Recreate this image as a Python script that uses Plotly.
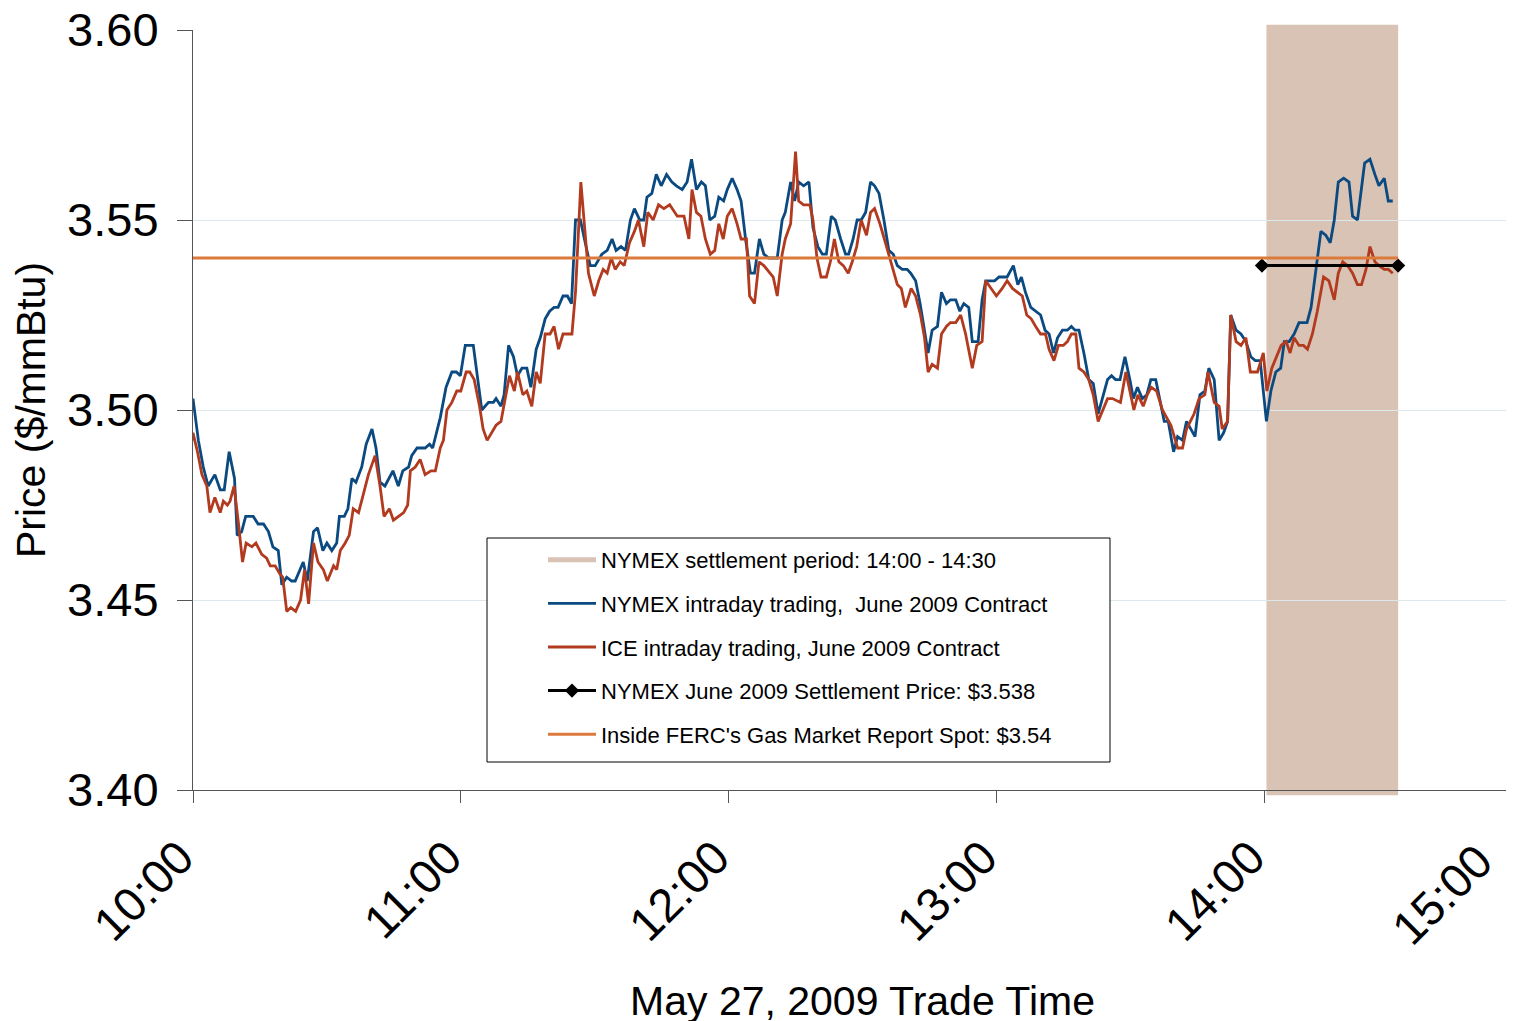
import pandas as pd
import plotly.graph_objects as go

# minutes after 10:00 and prices
nymex_minutes = [
    0, 1.2, 2.3, 3.4, 4.9, 6.1, 7.0, 8.1, 9.3, 9.9, 10.9, 11.8, 13.5, 14.6, 15.8, 16.9,
    17.9, 19.1, 19.9, 21.0, 22.1, 22.9, 24.7, 25.6, 27.0, 27.9, 29.1, 30.0, 31.1, 32.2,
    32.8, 33.9, 34.7, 35.6, 36.5, 37.8, 38.8, 40.1, 41.0, 41.9, 43.0, 44.8, 46.0, 47.0,
    48.3, 49.0, 50.2, 52.0, 53.0, 53.7, 55.4, 56.7, 58.0, 59.0, 59.9, 61.0, 62.8, 64.7,
    66.2, 67.3, 67.9, 69.0, 69.7, 70.7, 71.8, 72.7, 73.7, 74.8, 75.7, 76.9, 77.8, 78.9,
    79.9, 80.9, 81.8, 82.9, 83.9, 84.8, 85.7, 86.8, 87.7, 89.0, 90.1, 91.6, 92.8, 93.9,
    94.8, 95.9, 96.9, 98.0, 98.9, 100.1, 101.0, 101.7, 102.8, 103.8, 104.9, 106.1, 107.3,
    108.3, 109.6, 110.7, 111.7, 112.8, 113.9, 114.8, 115.8, 116.9, 117.8, 118.9, 119.7,
    120.8, 121.9, 122.8, 123.8, 124.9, 125.8, 126.9, 127.9, 129.0, 130.9, 132.0, 132.7,
    133.9, 134.8, 135.7, 136.8, 138.0, 138.9, 140.0, 141.0, 141.9, 143.0, 143.9, 145.1,
    146.2, 146.9, 147.9, 148.8, 149.7, 150.7, 151.8, 152.7, 153.7, 154.8, 155.9, 156.9,
    157.8, 158.9, 160.0, 160.8, 161.9, 162.9, 163.8, 164.7, 165.6, 166.8, 167.7, 168.8,
    169.7, 170.9, 171.8, 172.7, 173.8, 174.6, 175.9, 176.8, 177.6, 178.5, 179.6, 180.6,
    182.4, 183.8, 184.8, 185.6, 186.5, 187.7, 188.8, 189.9, 190.9, 191.8, 192.8, 193.7,
    194.8, 195.9, 196.8, 197.6, 198.5, 199.6, 200.7, 201.7, 202.8, 203.9, 204.9, 205.8,
    206.7, 207.7, 208.8, 209.9, 210.7, 211.6, 212.7, 213.7, 214.6, 215.7, 216.4, 217.6,
    218.5, 219.7, 220.6, 221.7, 222.6, 223.5, 224.5, 225.6, 226.7, 227.6, 228.8, 229.9,
    230.9, 231.8, 232.5, 233.7, 234.8, 235.9, 237.0, 238.0, 239.1, 240.5, 241.5, 242.6,
    243.7, 244.5, 245.6, 246.7, 247.8, 249.6, 250.5, 251.6, 252.7, 253.8, 254.8, 255.7,
    256.6, 257.8, 259.0, 259.8, 260.9, 262.5, 263.7, 264.8, 265.7, 266.9, 267.8, 268.8,
]
nymex_price = [
    3.503, 3.492, 3.485, 3.480, 3.483, 3.479, 3.479, 3.489, 3.482, 3.467, 3.468, 3.472,
    3.472, 3.470, 3.470, 3.468, 3.464, 3.463, 3.454, 3.456, 3.455, 3.455, 3.460, 3.455,
    3.468, 3.469, 3.463, 3.465, 3.463, 3.465, 3.472, 3.472, 3.474, 3.482, 3.481, 3.485,
    3.491, 3.495, 3.490, 3.481, 3.480, 3.484, 3.480, 3.484, 3.485, 3.488, 3.490, 3.490,
    3.491, 3.490, 3.498, 3.506, 3.510, 3.510, 3.509, 3.517, 3.517, 3.500, 3.502, 3.502,
    3.503, 3.501, 3.504, 3.517, 3.514, 3.509, 3.511, 3.511, 3.506, 3.516, 3.519, 3.524,
    3.526, 3.527, 3.527, 3.530, 3.530, 3.528, 3.550, 3.550, 3.545, 3.538, 3.538, 3.541,
    3.542, 3.545, 3.542, 3.543, 3.542, 3.550, 3.553, 3.550, 3.550, 3.556, 3.557, 3.562,
    3.559, 3.562, 3.560, 3.559, 3.558, 3.560, 3.566, 3.558, 3.560, 3.559, 3.550, 3.551,
    3.556, 3.555, 3.558, 3.561, 3.558, 3.555, 3.545, 3.536, 3.536, 3.545, 3.541, 3.540,
    3.540, 3.550, 3.552, 3.560, 3.555, 3.560, 3.559, 3.560, 3.548, 3.543, 3.541, 3.541,
    3.551, 3.550, 3.545, 3.541, 3.541, 3.545, 3.550, 3.550, 3.552, 3.560, 3.559, 3.557,
    3.550, 3.542, 3.541, 3.538, 3.537, 3.537, 3.536, 3.534, 3.528, 3.522, 3.515, 3.521,
    3.522, 3.531, 3.528, 3.529, 3.529, 3.526, 3.528, 3.527, 3.518, 3.518, 3.529, 3.534,
    3.534, 3.534, 3.535, 3.535, 3.538, 3.533, 3.535, 3.531, 3.527, 3.526, 3.525, 3.521,
    3.520, 3.515, 3.519, 3.521, 3.521, 3.522, 3.521, 3.521, 3.515, 3.508, 3.507, 3.499,
    3.504, 3.508, 3.509, 3.508, 3.508, 3.514, 3.508, 3.503, 3.506, 3.503, 3.504, 3.508,
    3.508, 3.504, 3.497, 3.497, 3.489, 3.493, 3.492, 3.497, 3.495, 3.493, 3.504, 3.505,
    3.511, 3.508, 3.492, 3.494, 3.497, 3.525, 3.521, 3.520, 3.518, 3.514, 3.513, 3.513,
    3.497, 3.505, 3.510, 3.511, 3.518, 3.518, 3.520, 3.523, 3.523, 3.527, 3.537, 3.547,
    3.546, 3.544, 3.550, 3.560, 3.561, 3.560, 3.551, 3.550, 3.565, 3.566, 3.562, 3.559,
    3.561, 3.555, 3.555,
]

ice_minutes = [
    -1.0, 0, 1.0, 2.0, 3.1, 3.8, 4.9, 6.1, 6.8, 7.7, 8.3, 9.2, 10.2, 11.1, 11.9, 13.2,
    14.1, 15.4, 16.5, 17.3, 18.4, 19.4, 20.1, 21.0, 21.9, 23.0, 24.1, 25.0, 25.9, 27.0,
    28.0, 29.2, 30.1, 31.5, 32.2, 33.0, 34.1, 35.0, 35.9, 37.1, 38.2, 39.3, 40.8, 41.9,
    42.8, 44.0, 44.9, 46.0, 47.2, 48.1, 48.7, 49.8, 50.9, 52.0, 53.3, 54.3, 55.4, 56.1,
    56.9, 58.0, 59.1, 60.0, 61.2, 62.0, 63.0, 64.2, 65.0, 65.9, 67.0, 67.9, 69.0, 70.0,
    70.9, 72.0, 72.7, 73.9, 74.8, 75.9, 76.9, 77.8, 78.9, 80.0, 80.9, 81.9, 82.9, 84.9,
    85.7, 86.9, 87.7, 88.6, 89.9, 90.9, 91.9, 92.8, 93.7, 94.6, 95.7, 96.6, 97.8, 98.9,
    99.8, 101.0, 101.9, 103.1, 104.3, 105.5, 106.8, 108.5, 110.0, 111.1, 111.8, 112.8,
    113.8, 114.8, 115.9, 116.9, 117.8, 118.8, 119.7, 120.8, 121.9, 122.8, 124.0, 124.7,
    125.8, 126.8, 127.9, 129.4, 130.0, 130.9, 132.0, 132.7, 133.9, 135.0, 135.7, 136.8,
    138.2, 138.9, 139.8, 140.7, 141.9, 142.8, 143.7, 144.7, 145.7, 146.8, 147.7, 148.7,
    149.7, 150.9, 151.8, 152.7, 153.9, 154.9, 155.9, 156.9, 157.8, 158.7, 159.6, 160.9,
    161.9, 163.0, 163.9, 164.7, 165.6, 166.8, 167.7, 168.8, 169.7, 170.9, 172.0, 173.1,
    174.6, 175.6, 176.8, 177.6, 178.7, 180.0, 181.3, 182.4, 183.6, 184.7, 185.8, 186.8,
    187.8, 188.8, 189.9, 191.0, 191.8, 192.9, 193.9, 195.0, 195.9, 196.8, 197.8, 198.5,
    199.6, 200.7, 201.7, 202.8, 203.9, 204.9, 206.0, 207.8, 209.0, 209.9, 210.8, 211.7,
    212.9, 213.8, 214.7, 215.9, 217.2, 219.1, 220.6, 221.7, 222.6, 224.3, 225.4, 226.7,
    227.4, 228.8, 229.9, 230.6, 231.8, 232.5, 233.7, 234.8, 235.9, 236.9, 238.5, 239.8,
    240.6, 241.7, 243.8, 244.9, 245.8, 246.7, 247.8, 248.8, 249.7, 250.8, 251.9, 253.3,
    254.5, 255.7, 256.6, 257.6, 258.7, 259.8, 260.9, 261.8, 262.8, 263.7, 264.8, 265.7,
    266.9, 267.8, 268.8,
]
ice_price = [
    3.487, 3.494, 3.489, 3.483, 3.480, 3.473, 3.477, 3.473, 3.476, 3.475, 3.476, 3.480,
    3.470, 3.460, 3.465, 3.464, 3.465, 3.462, 3.461, 3.459, 3.459, 3.457, 3.456, 3.447,
    3.448, 3.447, 3.450, 3.458, 3.449, 3.465, 3.460, 3.458, 3.455, 3.459, 3.458, 3.463,
    3.465, 3.467, 3.474, 3.473, 3.478, 3.483, 3.488, 3.480, 3.472, 3.474, 3.471, 3.472,
    3.473, 3.475, 3.484, 3.485, 3.487, 3.483, 3.484, 3.484, 3.490, 3.492, 3.500, 3.502,
    3.505, 3.505, 3.510, 3.510, 3.508, 3.501, 3.495, 3.492, 3.494, 3.496, 3.497, 3.503,
    3.509, 3.505, 3.510, 3.504, 3.505, 3.501, 3.510, 3.507, 3.520, 3.520, 3.522, 3.516,
    3.520, 3.520, 3.531, 3.560, 3.549, 3.536, 3.530, 3.534, 3.537, 3.536, 3.540, 3.537,
    3.539, 3.538, 3.544, 3.547, 3.550, 3.543, 3.552, 3.550, 3.554, 3.553, 3.554, 3.551,
    3.551, 3.545, 3.558, 3.552, 3.551, 3.545, 3.541, 3.542, 3.549, 3.545, 3.551, 3.553,
    3.549, 3.545, 3.545, 3.530, 3.528, 3.539, 3.538, 3.536, 3.535, 3.530, 3.541, 3.545,
    3.549, 3.568, 3.555, 3.554, 3.554, 3.550, 3.540, 3.535, 3.535, 3.539, 3.545, 3.539,
    3.538, 3.536, 3.539, 3.543, 3.550, 3.546, 3.552, 3.553, 3.549, 3.545, 3.541, 3.537,
    3.533, 3.532, 3.527, 3.532, 3.530, 3.525, 3.519, 3.510, 3.512, 3.511, 3.520, 3.522,
    3.523, 3.523, 3.525, 3.520, 3.511, 3.517, 3.518, 3.534, 3.532, 3.530, 3.532, 3.534,
    3.532, 3.531, 3.530, 3.525, 3.524, 3.522, 3.520, 3.520, 3.516, 3.513, 3.517, 3.517,
    3.518, 3.520, 3.520, 3.511, 3.510, 3.508, 3.504, 3.497, 3.500, 3.503, 3.503, 3.502,
    3.510, 3.505, 3.500, 3.504, 3.501, 3.504, 3.506, 3.505, 3.500, 3.496, 3.490, 3.490,
    3.495, 3.499, 3.503, 3.504, 3.510, 3.502, 3.501, 3.495, 3.497, 3.525, 3.518, 3.517,
    3.519, 3.510, 3.510, 3.515, 3.505, 3.511, 3.517, 3.518, 3.515, 3.519, 3.517, 3.517,
    3.516, 3.520, 3.526, 3.535, 3.534, 3.529, 3.536, 3.539, 3.538, 3.536, 3.533, 3.533,
    3.537, 3.543, 3.539, 3.538, 3.537, 3.537, 3.536,
]

settle_minutes = [239.5, 270]
settle_price = [3.538, 3.538]

ferc_minutes = [0, 270]
ferc_price = [3.54, 3.54]

settlement_window = [240.5, 270]

y_ticks = [3.40, 3.45, 3.50, 3.55, 3.60]
x_ticks = ["10:00", "11:00", "12:00", "13:00", "14:00", "15:00"]

BLUE = "#0b4a80"
RED = "#b23a1f"
ORANGE = "#dc7a3c"
TAN = "#d8c3b5"
FONT = "Liberation Sans, Arial, sans-serif"

base = pd.Timestamp("2009-05-27 10:00")


def to_time(minutes):
    # plain strings, so plotly does not pack datetimes into a typed array
    stamps = base + pd.to_timedelta(pd.Series(minutes, dtype=float), unit="min")
    return stamps.dt.strftime("%Y-%m-%d %H:%M:%S.%f").tolist()


fig = go.Figure()

# settlement window band
band = to_time(settlement_window)
fig.add_shape(
    type="rect", xref="x", yref="paper",
    x0=band[0], x1=band[1],
    y0=-0.007, y1=1.007,
    fillcolor=TAN, line_width=0, layer="between",
)

fig.add_trace(go.Scatter(
    x=[None], y=[None], mode="lines",
    name="NYMEX settlement period: 14:00 - 14:30",
    line=dict(color=TAN, width=5), legendgroup="a",
))
fig.add_trace(go.Scatter(
    x=to_time(nymex_minutes), y=nymex_price, mode="lines",
    name="NYMEX intraday trading,  June 2009 Contract",
    line=dict(color=BLUE, width=2.8), legendgroup="b",
))
fig.add_trace(go.Scatter(
    x=to_time(ice_minutes), y=ice_price, mode="lines",
    name="ICE intraday trading, June 2009 Contract",
    line=dict(color=RED, width=2.8), legendgroup="c",
))
fig.add_trace(go.Scatter(
    x=to_time(settle_minutes), y=settle_price, mode="lines+markers",
    name="NYMEX June 2009 Settlement Price: $3.538",
    line=dict(color="black", width=3),
    marker=dict(symbol="diamond", size=11, color="black"),
    legendgroup="d",
))
fig.add_trace(go.Scatter(
    x=to_time(ferc_minutes), y=ferc_price, mode="lines",
    name="Inside FERC's Gas Market Report Spot: $3.54",
    line=dict(color=ORANGE, width=3), legendgroup="e",
))

# page is offset by the 8px body margin, so the plot box starts at 185,22;
# the 15:00 end of the axis runs slightly past the right edge of the window
L, T, W, H = 185, 22, 1339, 760
FIG_W, FIG_H = L + W + 2, 1021

# legend frame
fig.add_shape(
    type="rect", xref="paper", yref="paper",
    x0=(487 - 193) / W, x1=(1110 - 193) / W,
    y0=(790 - 762) / H, y1=(790 - 538) / H,
    line=dict(color="black", width=1), fillcolor="white", layer="above",
)

# last tick label would be cut by the window edge, so it is placed by hand
fig.add_annotation(
    text=x_ticks[-1], xref="paper", yref="paper",
    x=(1505 - 193) / W, y=(790 - 831) / H,
    xanchor="right", yanchor="top",
    textangle=-45, showarrow=False,
    font=dict(size=47, family=FONT, color="black"),
)

fig.update_layout(
    width=FIG_W,
    height=FIG_H,
    paper_bgcolor="white",
    plot_bgcolor="white",
    font=dict(family=FONT, color="black"),
    margin=dict(l=L, r=FIG_W - L - W, t=T, b=FIG_H - T - H, autoexpand=False),
    showlegend=True,
    legend=dict(
        x=(543 - 193) / W, y=(790 - 539) / H,
        xanchor="left", yanchor="top",
        bgcolor="rgba(0,0,0,0)", borderwidth=0,
        font=dict(size=22, family=FONT),
        itemwidth=48,
        tracegroupgap=12, traceorder="grouped",
    ),
    xaxis=dict(
        type="date",
        range=to_time([0, 300]),
        tickvals=to_time([60 * i for i in range(len(x_ticks))]),
        ticktext=x_ticks[:-1] + [""],
        tickangle=-45,
        tickfont=dict(size=47),
        ticklabeloverflow="allow",
        ticklabelshift=-13,
        ticklabelstandoff=8,
        ticks="outside", ticklen=12, tickcolor="#555555",
        showline=True, linecolor="#555555", linewidth=1,
        showgrid=False, zeroline=False,
        title=dict(text="May 27, 2009 Trade Time", font=dict(size=41), standoff=36),
    ),
    yaxis=dict(
        range=[3.40, 3.60],
        tickvals=y_ticks,
        tickformat=".2f",
        tickfont=dict(size=47),
        ticklabeloverflow="allow",
        ticks="outside", ticklen=15, tickcolor="#555555",
        ticklabelstandoff=9,
        showline=True, linecolor="#555555", linewidth=1,
        showgrid=True, gridcolor="#dde8ec", gridwidth=1,
        zeroline=False,
        title=dict(text="Price ($/mmBtu)", font=dict(size=41), standoff=12),
    ),
)

fig.write_html("out.html")
